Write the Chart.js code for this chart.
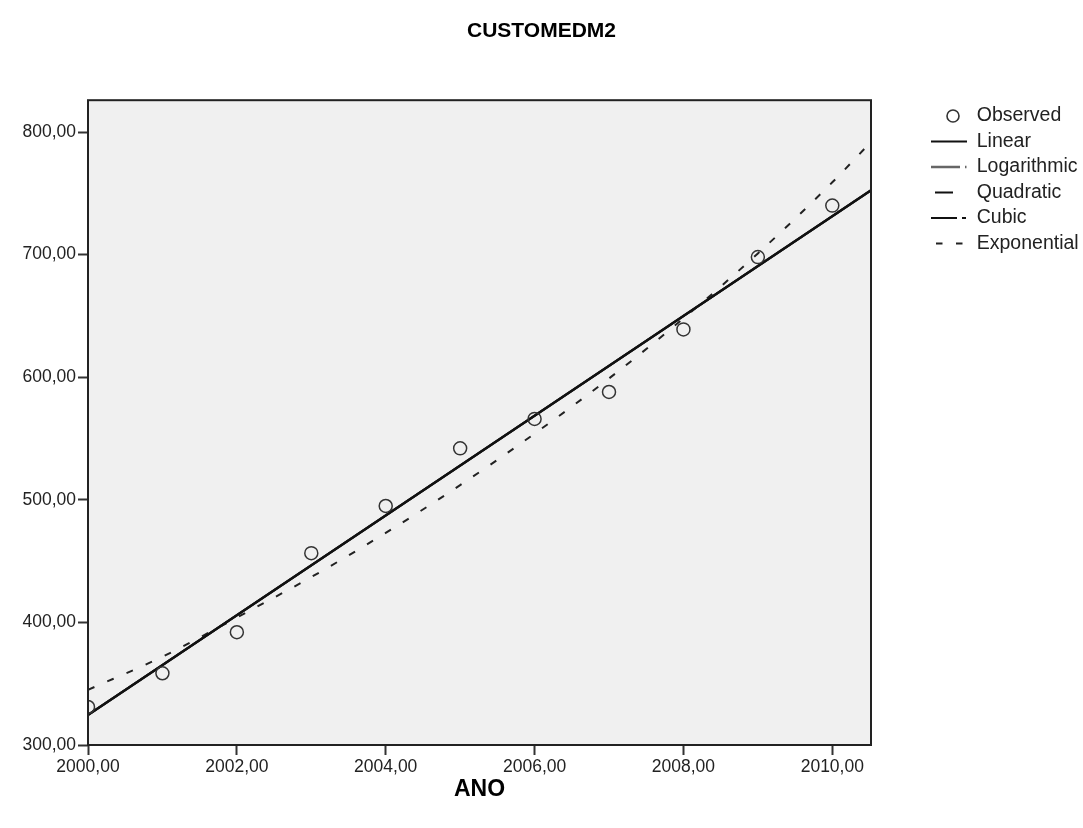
<!DOCTYPE html>
<html>
<head>
<meta charset="utf-8">
<script src="https://cdn.jsdelivr.net/npm/chart.js@4/dist/chart.umd.min.js"></script>
<style>
  body { margin: 0; background: #fff; }
</style>
</head>
<body>
<canvas id="c" width="1083" height="828"></canvas>
<script>
// values
const years = [2000, 2001, 2002, 2003, 2004, 2005, 2006, 2007, 2008, 2009, 2010];
const observed = [331, 358.5, 392, 456.5, 495, 542, 566, 588, 639, 698, 740];

// fitted curves
const linearX = [2000, 2010.52];
const linearY = [324.5, 752.5];
const expX = [2000, 2001, 2002, 2003, 2004, 2005, 2006, 2007, 2008, 2009, 2010, 2010.52];
const expY = [345, 372, 404, 437, 473, 512, 554, 599, 648, 701, 759, 792];

const xTicks = [2000, 2002, 2004, 2006, 2008, 2010];
const yTicks = [300, 400, 500, 600, 700, 800];

const FONT = "'Liberation Sans', Arial, sans-serif";
const fmt = v => v.toFixed(2).replace(".", ",");
const pts = (xs, ys) => xs.map((x, i) => ({ x, y: ys[i] }));

// open circle for the legend entry (sits a little right of the sample centre)
const circleIcon = document.createElement("canvas");
circleIcon.width = 24; circleIcon.height = 16;
(() => {
    const g = circleIcon.getContext("2d");
    g.strokeStyle = "#333";
    g.lineWidth = 1.6;
    g.beginPath();
    g.arc(16, 8, 6, 0, Math.PI * 2);
    g.stroke();
})();

const frame = {
    id: "frame",
    beforeDatasetsDraw(chart) {
        const a = chart.chartArea, ctx = chart.ctx;
        ctx.save();
        ctx.fillStyle = "#f0f0f0";
        ctx.fillRect(a.left, a.top, a.right - a.left, a.bottom - a.top);
        ctx.restore();
    },
    afterDatasetsDraw(chart) {
        const a = chart.chartArea, ctx = chart.ctx;
        ctx.save();
        ctx.strokeStyle = "#222";
        ctx.lineWidth = 2;
        ctx.strokeRect(a.left, a.top, a.right - a.left, a.bottom - a.top);
        ctx.restore();
    }
};

const legendLook = [
    { style: circleIcon, color: "#333", width: 1, dash: [], off: 0 },
    { style: "line", color: "#111", width: 2, dash: [], off: 0 },
    { style: "line", color: "#666", width: 2.5, dash: [29, 5, 1.5, 10], off: 0 },
    { style: "line", color: "#111", width: 2, dash: [18, 100], off: 114 },
    { style: "line", color: "#111", width: 2, dash: [26, 5, 4, 10], off: 0 },
    { style: "line", color: "#222", width: 2, dash: [6.5, 13.5], off: 15 }
];

new Chart(document.getElementById("c"), {
    type: "scatter",
    data: {
        datasets: [
            { label: "Observed", data: pts(years, observed), showLine: false,
              pointStyle: "circle", pointRadius: 6.5, pointBorderWidth: 1.5,
              pointBorderColor: "#333", pointBackgroundColor: "rgba(0,0,0,0)" },
            { label: "Linear", data: pts(linearX, linearY), showLine: true,
              borderColor: "#111", borderWidth: 2.5, pointRadius: 0 },
            { label: "Logarithmic", data: pts(linearX, linearY), showLine: true,
              borderColor: "#555", borderWidth: 2, pointRadius: 0 },
            { label: "Quadratic", data: pts(linearX, linearY), showLine: true,
              borderColor: "#222", borderWidth: 2, pointRadius: 0 },
            { label: "Cubic", data: pts(linearX, linearY), showLine: true,
              borderColor: "#222", borderWidth: 2, pointRadius: 0 },
            { label: "Exponential", data: pts(expX, expY), showLine: true,
              borderColor: "#222", borderWidth: 2, borderDash: [7, 14],
              cubicInterpolationMode: "monotone", pointRadius: 0 }
        ]
    },
    options: {
        responsive: false,
        animation: false,
        layout: { padding: 0 },
        plugins: {
            title: {
                display: true, text: "CUSTOMEDM2", color: "#000",
                font: { family: FONT, size: 21, weight: "bold" },
                padding: { top: 19, bottom: 56 }
            },
            legend: {
                position: "right", align: "start", fullSize: false, maxWidth: 158,
                labels: {
                    usePointStyle: true, pointStyleWidth: 36, padding: 6,
                    color: "#222", font: { family: FONT, size: 19.5 },
                    generateLabels: chart => chart.data.datasets.map((ds, i) => ({
                        text: ds.label,
                        pointStyle: legendLook[i].style,
                        strokeStyle: legendLook[i].color,
                        fillStyle: "rgba(0,0,0,0)",
                        lineWidth: legendLook[i].width,
                        lineDash: legendLook[i].dash,
                        lineDashOffset: legendLook[i].off,
                        fontColor: "#222",
                        hidden: false,
                        datasetIndex: i
                    }))
                }
            },
            tooltip: { enabled: false }
        },
        scales: {
            x: {
                type: "linear", min: 2000, max: 2010.52, bounds: "data",
                afterFit: s => { s.height = 83; },
                afterBuildTicks: s => { s.ticks = xTicks.map(v => ({ value: v })); },
                ticks: { color: "#222", padding: 2, font: { family: FONT, size: 17.5 }, callback: fmt },
                grid: { drawOnChartArea: false, drawTicks: true, tickLength: 10, color: "#333", tickWidth: 2 },
                border: { display: false },
                title: { display: true, text: "ANO", color: "#000",
                         font: { family: FONT, size: 23, weight: "bold" },
                         padding: { top: 4, bottom: 25 } }
            },
            y: {
                type: "linear", min: 300, max: 826, bounds: "data",
                afterFit: s => { s.width = 88; },
                afterBuildTicks: s => { s.ticks = yTicks.map(v => ({ value: v })); },
                ticks: { color: "#222", padding: 2, font: { family: FONT, size: 17.5 }, callback: fmt },
                grid: { drawOnChartArea: false, drawTicks: true, tickLength: 10, color: "#333", tickWidth: 2 },
                border: { display: false }
            },
            gap: {
                type: "linear", position: "right", display: true,
                afterFit: s => { s.width = 54; },
                ticks: { display: false },
                grid: { display: false },
                border: { display: false }
            }
        }
    },
    plugins: [frame]
});
</script>
</body>
</html>
